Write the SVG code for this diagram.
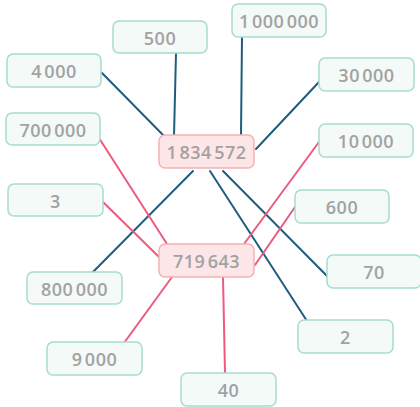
<svg xmlns="http://www.w3.org/2000/svg" width="420" height="407" viewBox="0 0 420 407">
<style>
.leaf rect{fill:#f4faf8;stroke:#a6dccf;stroke-width:1.5}
.hub rect{fill:#fde6e7;stroke:#f5b1b6;stroke-width:1.5}
text{font-family:"Open Sans","Liberation Sans",sans-serif;font-size:18px;font-weight:600;fill:#a2a2a2;text-anchor:middle;dominant-baseline:central;letter-spacing:0.5px}
.b{stroke:#1f5d80;stroke-width:2;fill:none;stroke-linecap:round}
.r{stroke:#ec5b7d;stroke-width:2;fill:none;stroke-linecap:round}
</style>
<rect width="420" height="407" fill="#ffffff"/>
<g id="connectors">
<line class="b" x1="176" y1="53" x2="174" y2="136"/>
<line class="b" x1="102" y1="73" x2="166" y2="138"/>
<line class="b" x1="242" y1="37" x2="241" y2="135"/>
<line class="b" x1="319" y1="82" x2="256" y2="149"/>
<line class="b" x1="193" y1="171" x2="92" y2="273"/>
<line class="b" x1="210" y1="171" x2="307" y2="321"/>
<line class="b" x1="223" y1="171" x2="327" y2="276"/>
<line class="r" x1="99" y1="138" x2="167" y2="244"/>
<line class="r" x1="103" y1="202" x2="159" y2="257"/>
<line class="r" x1="319" y1="142" x2="244" y2="244"/>
<line class="r" x1="295" y1="207" x2="255" y2="265"/>
<line class="r" x1="172" y1="277" x2="124" y2="343"/>
<line class="r" x1="223" y1="277" x2="225" y2="373"/>
</g>
<g id="n500" class="leaf"><rect x="113" y="21" width="94" height="32" rx="6"/><text x="160" y="38">500</text></g>
<g id="n4000" class="leaf"><rect x="7" y="54" width="94" height="33" rx="6"/><text x="54" y="71">4&#8202;000</text></g>
<g id="n700000" class="leaf"><rect x="6" y="113" width="94" height="32" rx="6"/><text x="53" y="130">700&#8202;000</text></g>
<g id="n1000000" class="leaf"><rect x="232" y="4" width="94" height="33" rx="6"/><text x="279" y="21">1&#8202;000&#8202;000</text></g>
<g id="n30000" class="leaf"><rect x="319" y="58" width="95" height="33" rx="6"/><text x="366.5" y="75">30&#8202;000</text></g>
<g id="n10000" class="leaf"><rect x="319" y="124" width="94" height="33" rx="6"/><text x="366" y="141">10&#8202;000</text></g>
<g id="n3" class="leaf"><rect x="8" y="184" width="95" height="32" rx="6"/><text x="55.5" y="201">3</text></g>
<g id="n600" class="leaf"><rect x="295" y="190" width="94" height="33" rx="6"/><text x="342" y="207">600</text></g>
<g id="n70" class="leaf"><rect x="327" y="255" width="94" height="33" rx="6"/><text x="374" y="272">70</text></g>
<g id="n800000" class="leaf"><rect x="27" y="272" width="95" height="32" rx="6"/><text x="74.5" y="289">800&#8202;000</text></g>
<g id="n2" class="leaf"><rect x="298" y="320" width="95" height="33" rx="6"/><text x="345.5" y="337">2</text></g>
<g id="n9000" class="leaf"><rect x="47" y="342" width="95" height="33" rx="6"/><text x="94.5" y="359">9&#8202;000</text></g>
<g id="n40" class="leaf"><rect x="181" y="373" width="95" height="33" rx="6"/><text x="228.5" y="390">40</text></g>
<g id="n1834572" class="hub"><rect x="159" y="135" width="95" height="33" rx="6"/><text x="206.5" y="152">1&#8202;834&#8202;572</text></g>
<g id="n719643" class="hub"><rect x="159" y="244" width="95" height="33" rx="6"/><text x="206.5" y="261">719&#8202;643</text></g>
</svg>
